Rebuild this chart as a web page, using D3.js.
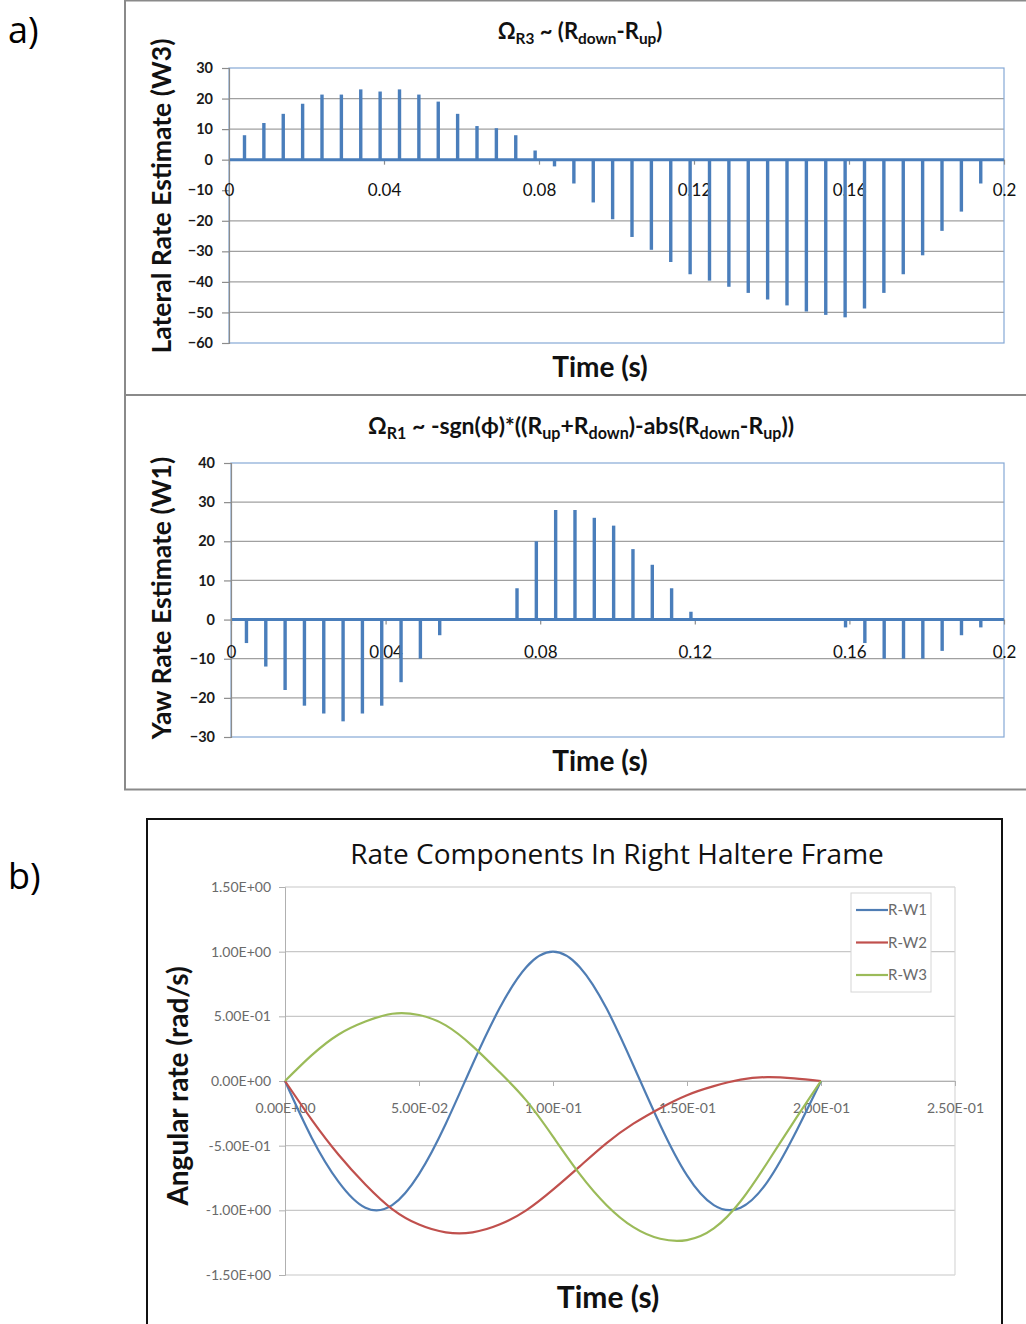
<!DOCTYPE html>
<html>
<head>
<meta charset="utf-8">
<script src="https://cdn.jsdelivr.net/npm/d3@7"></script>
<style>
  body { margin: 0; background: #fff; }
  svg { display: block; font-family: Lato, "Open Sans", sans-serif; }
</style>
</head>
<body>
<div id="chart"></div>
<script>
// sample times of the spikes (s)
const spikeTimes = [0.004, 0.009, 0.014, 0.019, 0.024, 0.029, 0.034, 0.039, 0.044, 0.049,
  0.054, 0.059, 0.064, 0.069, 0.074, 0.079, 0.084, 0.089, 0.094, 0.099,
  0.104, 0.109, 0.114, 0.119, 0.124, 0.129, 0.134, 0.139, 0.144, 0.149,
  0.154, 0.159, 0.164, 0.169, 0.174, 0.179, 0.184, 0.189, 0.194];

// lateral rate estimate (W3)
const lateralW3 = [8, 12, 15, 18.3, 21.3, 21.3, 23, 22.3, 23, 21.3,
  19, 15, 11, 10.3, 8, 3, -2.2, -7.8, -14, -19.5,
  -25.3, -29.5, -33.5, -37.5, -39.6, -41.6, -43.6, -45.8, -47.7, -49.7,
  -50.8, -51.6, -48.7, -43.6, -37.5, -31.3, -23.3, -17, -7.8];

// yaw rate estimate (W1)
const yawW1 = [-6, -12, -18, -22, -24, -26, -24, -22, -16, -10,
  -4, 0, 0, 0, 8, 20, 28, 28, 26, 24,
  18, 14, 8, 2, 0, 0, 0, 0, 0, 0,
  0, -2, -6, -10, -10, -10, -8, -4, -2];

const topXTicks = [0, 0.04, 0.08, 0.12, 0.16, 0.2];
const topYTicks = [30, 20, 10, 0, -10, -20, -30, -40, -50, -60];
const midYTicks = [40, 30, 20, 10, 0, -10, -20, -30];

// rate components in right haltere frame
const frameTime = [0, 0.01, 0.02, 0.03, 0.04, 0.05, 0.06, 0.07, 0.08, 0.09, 0.10,
  0.11, 0.12, 0.13, 0.14, 0.15, 0.16, 0.17, 0.18, 0.19, 0.20];
const rW1 = [0, -0.44, -0.78, -0.98, -0.96, -0.72, -0.33, 0.13, 0.56, 0.88, 1.0,
  0.88, 0.56, 0.12, -0.34, -0.73, -0.96, -0.98, -0.78, -0.42, 0];
const rW2 = [0, -0.30, -0.57, -0.80, -0.99, -1.11, -1.17, -1.17, -1.11, -1.0, -0.84,
  -0.66, -0.48, -0.33, -0.21, -0.11, -0.04, 0.01, 0.03, 0.02, 0];
const rW3 = [0, 0.20, 0.36, 0.46, 0.52, 0.51, 0.43, 0.27, 0.07, -0.15, -0.43,
  -0.72, -0.96, -1.13, -1.22, -1.23, -1.14, -0.93, -0.63, -0.31, 0];
const seriesNames = ['R-W1', 'R-W2', 'R-W3'];
const seriesColors = ['#4f7db4', '#c0504d', '#9bbb59'];
const bottomXTicks = [0, 0.05, 0.10, 0.15, 0.20, 0.25];
const bottomXLabels = ['0.00E+00', '5.00E-02', '1.00E-01', '1.50E-01', '2.00E-01', '2.50E-01'];
const bottomYTicks = [1.5, 1.0, 0.5, 0, -0.5, -1.0, -1.5];
const bottomYLabels = ['1.50E+00', '1.00E+00', '5.00E-01', '0.00E+00', '-5.00E-01', '-1.00E+00', '-1.50E+00'];

const W = 1026, H = 1324;
const svg = d3.select('#chart').append('svg').attr('width', W).attr('height', H);

const spikeBlue = '#4a7ebb';
const gridGrey = '#a0a0a0';
const borderBlue = '#86a9d6';

// panel a frame
svg.append('rect').attr('x', 125).attr('y', 0.5).attr('width', 920).attr('height', 789)
  .attr('fill', 'none').attr('stroke', '#8a8a8a').attr('stroke-width', 2);
svg.append('line').attr('x1', 125).attr('x2', W).attr('y1', 395).attr('y2', 395)
  .attr('stroke', '#8a8a8a').attr('stroke-width', 2);

svg.append('text').attr('x', 8).attr('y', 43).attr('font-size', 36)
  .attr('font-family', '"Open Sans", sans-serif').text('a)');
svg.append('text').attr('x', 8).attr('y', 889).attr('font-size', 36)
  .attr('font-family', '"Open Sans", sans-serif').text('b)');

function spikeChart(opts) {
  const x = d3.scaleLinear().domain([0, 0.2]).range([opts.left, 1004]);
  const y = d3.scaleLinear().domain(opts.yDomain).range([opts.bottom, opts.top]);
  const g = svg.append('g');

  // gridlines
  g.selectAll('.grid').data(opts.yTicks.filter(d => d !== opts.yDomain[0] && d !== opts.yDomain[1] && d !== 0 && opts.noGrid.indexOf(d) < 0))
    .join('line')
    .attr('x1', x(0)).attr('x2', x(0.2))
    .attr('y1', d => y(d)).attr('y2', d => y(d))
    .attr('stroke', gridGrey).attr('stroke-width', 1.2);

  // plot area border
  g.append('rect').attr('x', x(0)).attr('y', y(opts.yDomain[1]))
    .attr('width', x(0.2) - x(0)).attr('height', y(opts.yDomain[0]) - y(opts.yDomain[1]))
    .attr('fill', 'none').attr('stroke', borderBlue).attr('stroke-width', 1.2);

  // y axis
  const yAxis = d3.axisLeft(y).tickValues(opts.yTicks).tickSize(7).tickPadding(9).tickFormat(d3.format('d'));
  const ya = g.append('g').attr('transform', `translate(${x(0)},0)`).call(yAxis);
  ya.select('.domain').attr('stroke', '#8c8c8c').attr('stroke-width', 1.2);
  ya.selectAll('.tick line').attr('stroke', '#8c8c8c').attr('stroke-width', 1.2);
  ya.selectAll('.tick text').attr('font-size', 14.5).attr('font-weight', 'bold')
    .attr('fill', '#1a1a1a').attr('font-family', 'Lato, sans-serif');

  // x axis along zero
  const xAxis = d3.axisBottom(x).tickValues(topXTicks).tickSize(5)
    .tickFormat(d => d === 0 ? '0' : d3.format('.2~f')(d));
  const xa = g.append('g').attr('transform', `translate(0,${y(0)})`).call(xAxis);
  xa.select('.domain').remove();
  xa.selectAll('.tick line').attr('stroke', '#8c8c8c').attr('stroke-width', 1.2);
  xa.selectAll('.tick text').attr('font-size', 17).attr('fill', '#111')
    .attr('font-family', 'Lato, sans-serif')
    .attr('y', opts.labelDy).attr('dy', 0);

  // baseline of the series
  g.append('line').attr('x1', x(0) + 1).attr('x2', x(0.2))
    .attr('y1', y(0)).attr('y2', y(0))
    .attr('stroke', spikeBlue).attr('stroke-width', 3);

  // spikes
  g.selectAll('.spike').data(spikeTimes.map((t, i) => ({t: t, v: opts.values[i]})).filter(d => d.v !== 0))
    .join('line')
    .attr('x1', d => x(d.t)).attr('x2', d => x(d.t))
    .attr('y1', y(0)).attr('y2', d => y(d.v))
    .attr('stroke', spikeBlue).attr('stroke-width', 3.4);

  // axis titles
  g.append('text').attr('x', 600).attr('y', opts.xTitleY).attr('text-anchor', 'middle')
    .attr('font-size', 28).attr('font-weight', 'bold').attr('fill', '#111').text('Time (s)');
  g.append('text').attr('transform', `translate(${opts.yTitleX},${opts.yTitleCy}) rotate(-90)`)
    .attr('text-anchor', 'middle').attr('font-size', 26.5).attr('font-weight', 'bold').attr('fill', '#111')
    .text(opts.yTitle);

  // chart title with subscripts
  const fs = opts.titleSize;
  const t = g.append('text').attr('x', opts.titleX).attr('y', opts.titleY).attr('text-anchor', 'middle')
    .attr('font-size', fs).attr('font-weight', 'bold').attr('fill', '#111');
  opts.titleParts.forEach(p => {
    t.append('tspan').attr('font-size', p[1] === 1 ? fs * 0.7 : fs).attr('dy', p[1] === 1 ? 5 : (p[1] === -1 ? -5 : 0))
      .text(p[0]);
  });
}

spikeChart({
  left: 229, top: 68, bottom: 343, yDomain: [-60, 30], yTicks: topYTicks, noGrid: [-10],
  values: lateralW3, labelDy: 36, xTitleY: 377, yTitleX: 171, yTitleCy: 196,
  yTitle: 'Lateral Rate Estimate (W3)', titleX: 580, titleY: 39, titleSize: 22,
  titleParts: [['\u03A9', 0], ['R3', 1], [' ~ (R', -1], ['down', 1], ['-R', -1], ['up', 1], [')', -1]]
});

spikeChart({
  left: 231, top: 463, bottom: 737, yDomain: [-30, 40], yTicks: midYTicks, noGrid: [],
  values: yawW1, labelDy: 38, xTitleY: 771, yTitleX: 171, yTitleCy: 598,
  yTitle: 'Yaw Rate Estimate (W1)', titleX: 581, titleY: 434, titleSize: 23,
  titleParts: [['\u03A9', 0], ['R1', 1], [' ~ -sgn(\u03D5)*((R', -1], ['up', 1], ['+R', -1], ['down', 1],
    [')-abs(R', -1], ['down', 1], ['-R', -1], ['up', 1], ['))', -1]]
});

// panel b
svg.append('rect').attr('x', 147).attr('y', 819).attr('width', 855).attr('height', 520)
  .attr('fill', 'none').attr('stroke', '#111').attr('stroke-width', 2);

const bx = d3.scaleLinear().domain([0, 0.25]).range([285, 955]);
const by = d3.scaleLinear().domain([-1.5, 1.5]).range([1275, 887]);
const gb = svg.append('g');

gb.selectAll('.grid').data(bottomYTicks).join('line')
  .attr('x1', bx(0)).attr('x2', bx(0.25))
  .attr('y1', d => by(d)).attr('y2', d => by(d))
  .attr('stroke', '#c8c8c8').attr('stroke-width', 1.2);
gb.append('line').attr('x1', bx(0.25)).attr('x2', bx(0.25)).attr('y1', by(1.5)).attr('y2', by(-1.5))
  .attr('stroke', '#d8d8d8').attr('stroke-width', 1.2);

const byAxis = d3.axisLeft(by).tickValues(bottomYTicks).tickSize(6).tickPadding(8)
  .tickFormat((d, i) => bottomYLabels[i]);
const bya = gb.append('g').attr('transform', `translate(${bx(0)},0)`).call(byAxis);
bya.select('.domain').attr('stroke', '#b0b0b0');
bya.selectAll('.tick line').attr('stroke', '#b0b0b0');
bya.selectAll('.tick text').attr('font-size', 14).attr('fill', '#6a6a6a').attr('font-family', 'Lato, sans-serif');

const bxAxis = d3.axisBottom(bx).tickValues(bottomXTicks).tickSize(5)
  .tickFormat((d, i) => bottomXLabels[i]);
const bxa = gb.append('g').attr('transform', `translate(0,${by(0)})`).call(bxAxis);
bxa.select('.domain').attr('stroke', '#b0b0b0');
bxa.selectAll('.tick line').attr('stroke', '#b0b0b0');
bxa.selectAll('.tick text').attr('font-size', 14).attr('fill', '#6a6a6a')
  .attr('font-family', 'Lato, sans-serif').attr('y', 32).attr('dy', 0);

const line = d3.line().x(d => bx(d[0])).y(d => by(d[1])).curve(d3.curveNatural);
[rW1, rW2, rW3].forEach((vals, k) => {
  gb.append('path').datum(frameTime.map((t, i) => [t, vals[i]]))
    .attr('fill', 'none').attr('stroke', seriesColors[k]).attr('stroke-width', 2.2)
    .attr('d', line);
});

// legend
const lg = gb.append('g').attr('transform', 'translate(851,893)');
lg.append('rect').attr('width', 80).attr('height', 99).attr('fill', '#fff').attr('stroke', '#d6d6d6');
seriesNames.forEach((n, i) => {
  const ly = 17 + i * 32.5;
  lg.append('line').attr('x1', 5).attr('x2', 37).attr('y1', ly).attr('y2', ly)
    .attr('stroke', seriesColors[i]).attr('stroke-width', 2.2);
  lg.append('text').attr('x', 37).attr('y', ly + 5).attr('font-size', 15).attr('fill', '#6a6a6a').text(n);
});

svg.append('text').attr('x', 617).attr('y', 864).attr('text-anchor', 'middle')
  .attr('font-size', 28).attr('font-family', '"Open Sans", sans-serif').attr('fill', '#111')
  .text('Rate Components In Right Haltere Frame');
svg.append('text').attr('x', 608).attr('y', 1308).attr('text-anchor', 'middle')
  .attr('font-size', 30).attr('font-weight', 'bold').attr('fill', '#111').text('Time (s)');
svg.append('text').attr('transform', 'translate(188,1086) rotate(-90)').attr('text-anchor', 'middle')
  .attr('font-size', 28).attr('font-weight', 'bold').attr('fill', '#111').text('Angular rate (rad/s)');
</script>
</body>
</html>
